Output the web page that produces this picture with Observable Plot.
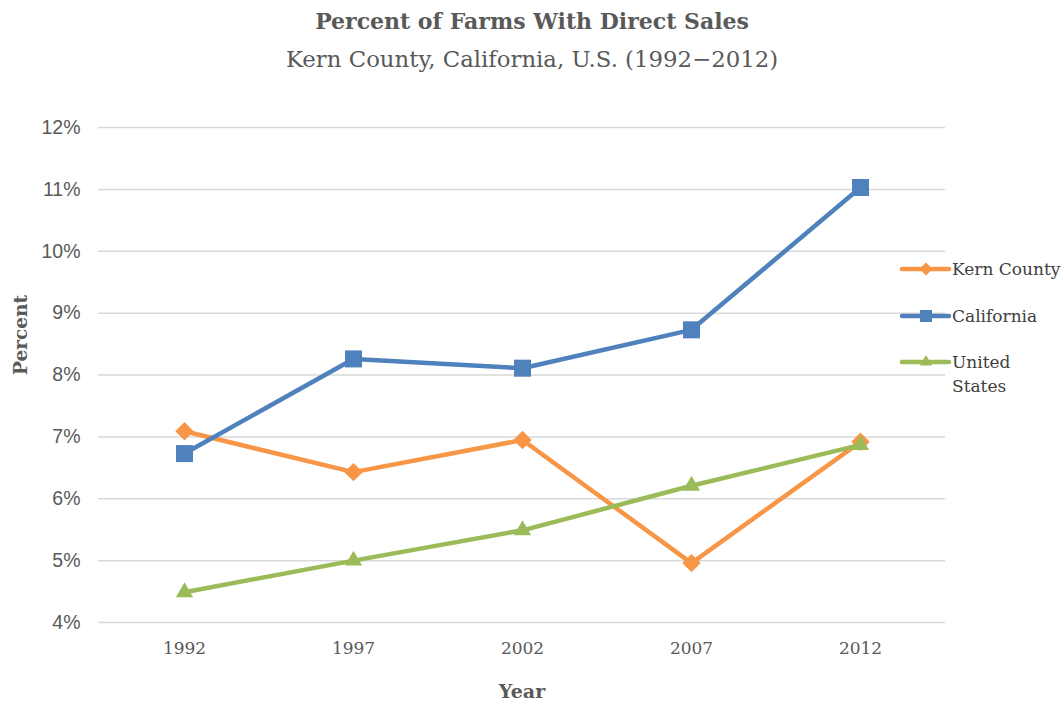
<!DOCTYPE html>
<html>
<head>
<meta charset="utf-8">
<script src="https://cdn.jsdelivr.net/npm/d3@7"></script>
<script src="https://cdn.jsdelivr.net/npm/@observablehq/plot@0.6"></script>
<style>
  html, body { margin: 0; padding: 0; background: #fff; }
  #wrap { position: relative; width: 1064px; height: 702px; overflow: hidden; }
  #head { height: 90px; text-align: center; color: #595959; font-family: "DejaVu Serif", serif; }
  #title { position: absolute; left: 0; width: 1064px; top: 8px; font-size: 22px; font-weight: bold; text-align: center; }
  #subtitle { position: absolute; left: 0; width: 1064px; top: 46px; font-size: 22.8px; text-align: center; }
  #legend { position: absolute; left: 900px; top: 0; font-family: "DejaVu Serif", serif; font-size: 17px; color: #404040; }
  .item { position: absolute; left: 0; white-space: nowrap; }
  .item svg { position: absolute; left: 0; top: 0; }
  .item span { position: absolute; left: 52px; top: -12px; line-height: 24px; }
  #ylab { position: absolute; left: 20px; top: 335px; transform: translate(-50%,-50%) rotate(-90deg); transform-origin: center; font-family: "DejaVu Serif", serif; font-weight: bold; font-size: 18.5px; color: #595959; white-space: nowrap; }
</style>
</head>
<body>
<div id="wrap">
  <div id="head">
    <div id="title">Percent of Farms With Direct Sales</div>
    <div id="subtitle">Kern County, California, U.S. (1992−2012)</div>
  </div>
  <div id="chart"></div>
  <div id="legend"></div>
</div>
<script>
const years = [1992, 1997, 2002, 2007, 2012];
const kernCounty = [7.09, 6.43, 6.95, 4.96, 6.92];
const california = [6.73, 8.26, 8.11, 8.73, 11.03];
const unitedStates = [4.49, 5.00, 5.49, 6.21, 6.87];
const yTicks = [4, 5, 6, 7, 8, 9, 10, 11, 12];
const seriesNames = ["Kern County", "California", "United States"];
const seriesColors = ["#F79646", "#4F81BD", "#9BBB59"];
const seriesSymbols = ["diamond2", "square", "triangle"];
const seriesR = [8.3, 9.6, 6.4];

const seriesValues = [kernCounty, california, unitedStates];
const data = [];
seriesNames.forEach((name, i) => {
  years.forEach((yr, j) => data.push({series: name, year: String(yr), value: seriesValues[i][j]}));
});

const serif = "DejaVu Serif, serif";
const plot = Plot.plot({
  width: 1064,
  height: 612,
  marginTop: 37,
  marginBottom: 80,
  marginLeft: 98,
  marginRight: 119,
  style: {background: "#fff", overflow: "visible"},
  x: {type: "point", domain: years.map(String), padding: 0.5, label: null},
  y: {domain: [4, 12], ticks: yTicks, label: null},
  color: {domain: seriesNames, range: seriesColors},
  symbol: {domain: seriesNames, range: seriesSymbols},
  marks: [
    Plot.gridY(yTicks, {stroke: "#d9d9d9", strokeOpacity: 1, strokeWidth: 1.5}),
    Plot.axisY(yTicks, {tickSize: 0, tickPadding: 18, tickFormat: d => d + "%", fontSize: 19.5, fill: "#595959", fontFamily: "Liberation Sans, Arial, sans-serif", label: null}),
    Plot.axisX({tickSize: 0, tickPadding: 19, fontSize: 17, fill: "#595959", fontFamily: serif, label: null, style: {letterSpacing: "1.5px"}}),
    Plot.lineY(data, {x: "year", y: "value", z: "series", stroke: "series", strokeWidth: 4.5, strokeLinejoin: "round", strokeLinecap: "round"}),
    ...seriesNames.map((name, i) =>
      Plot.dot(data.filter(d => d.series === name), {x: "year", y: "value", symbol: () => name, fill: () => name, r: seriesR[i], stroke: "none"})
    ),
    Plot.text(["Year"], {frameAnchor: "bottom", dy: 75, fontFamily: serif, fontWeight: "bold", fontSize: 19, fill: "#595959"})
  ]
});
document.getElementById("chart").appendChild(plot);

const ylab = document.createElement("div");
ylab.id = "ylab";
ylab.textContent = "Percent";
document.getElementById("wrap").appendChild(ylab);

// legend
const legendTops = [269, 316, 362];
const legendLabels = [["Kern County"], ["California"], ["United", "States"]];
const legend = document.getElementById("legend");
seriesNames.forEach((name, i) => {
  const item = document.createElement("div");
  item.className = "item";
  item.style.top = legendTops[i] + "px";
  const sym = d3.symbol(d3["symbol" + {diamond2: "Diamond2", square: "Square", triangle: "Triangle"}[seriesSymbols[i]]], Math.PI * seriesR[i] * seriesR[i] * 0.5)();
  item.innerHTML = `<svg width="52" height="20" style="top:-10px;overflow:visible"><line x1="2" x2="49" y1="10" y2="10" stroke="${seriesColors[i]}" stroke-width="4.5" stroke-linecap="round"/><path transform="translate(26,10)" d="${sym}" fill="${seriesColors[i]}"/></svg><span>${legendLabels[i].join("<br>")}</span>`;
  legend.appendChild(item);
});
</script>
</body>
</html>
